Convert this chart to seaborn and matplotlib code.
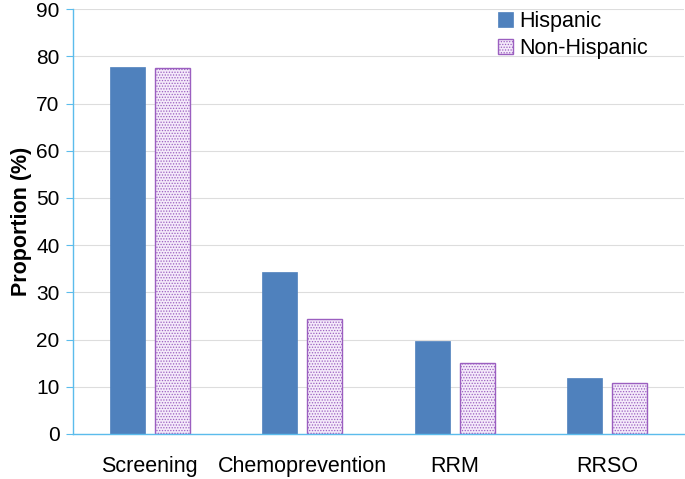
import pandas as pd
import matplotlib
matplotlib.use("Agg")
import matplotlib.pyplot as plt
import seaborn as sns

# Valores
categorias = ["Screening", "Chemoprevention", "RRM", "RRSO"]
hispanic = [77.8, 34.3, 19.7, 11.9]
non_hispanic = [77.6, 24.4, 15.1, 10.7]
grupos = ["Hispanic", "Non-Hispanic"]

df = pd.DataFrame({
    "categoria": categorias * 2,
    "valor": hispanic + non_hispanic,
    "grupo": [grupos[0]] * len(categorias) + [grupos[1]] * len(categorias),
})

sns.set_style("white")
plt.rcParams["font.family"] = ["Liberation Sans", "DejaVu Sans"]
plt.rcParams["hatch.linewidth"] = 0.6
plt.rcParams["text.color"] = "black"
plt.rcParams["axes.labelcolor"] = "black"
plt.rcParams["xtick.color"] = "black"
plt.rcParams["ytick.color"] = "black"

azul_eixo = "#5bbcec"

fig, ax = plt.subplots(figsize=(6.85, 4.79), dpi=100)
sns.barplot(data=df, x="categoria", y="valor", hue="grupo",
            palette=["#4f81bd", "#f4eafa"], width=0.59, gap=0.22,
            saturation=1, legend=False, ax=ax)

# Estilo das barras Non-Hispanic (pontilhado roxo)
for cont, grupo in zip(ax.containers, grupos):
    for barra in cont:
        if grupo == "Non-Hispanic":
            barra.set_edgecolor("#9b5fc0")
            barra.set_hatch("......")
            barra.set_linewidth(1.0)
        else:
            barra.set_edgecolor("#4f81bd")
            barra.set_linewidth(0.5)

ax.set_ylim(0, 90)
ax.set_yticks(range(0, 91, 10))
ax.yaxis.grid(True, color="#dddddd", linewidth=0.8)
ax.set_axisbelow(True)

for lado in ["top", "right"]:
    ax.spines[lado].set_visible(False)
for lado in ["left", "bottom"]:
    ax.spines[lado].set_color(azul_eixo)
    ax.spines[lado].set_linewidth(1.0)

ax.tick_params(axis="y", left=True, length=5, color=azul_eixo, labelcolor="black",
               labelsize=15, pad=5)
ax.tick_params(axis="x", bottom=False, labelcolor="black", labelsize=15.5, pad=12)

ax.set_xlabel("")
ax.set_ylabel("Proportion (%)", fontsize=15.5, fontweight="bold", labelpad=3,
              color="black")

ax.legend(handles=[cont[0] for cont in ax.containers], labels=grupos,
          loc="upper right", frameon=False, fontsize=15.5,
          handlelength=0.7, handleheight=0.7, handletextpad=0.25,
          labelspacing=0.25, borderaxespad=0.0, bbox_to_anchor=(0.955, 1.015))

plt.subplots_adjust(left=0.107, right=0.998, top=0.981, bottom=0.094)
plt.savefig("out.png", dpi=100)
